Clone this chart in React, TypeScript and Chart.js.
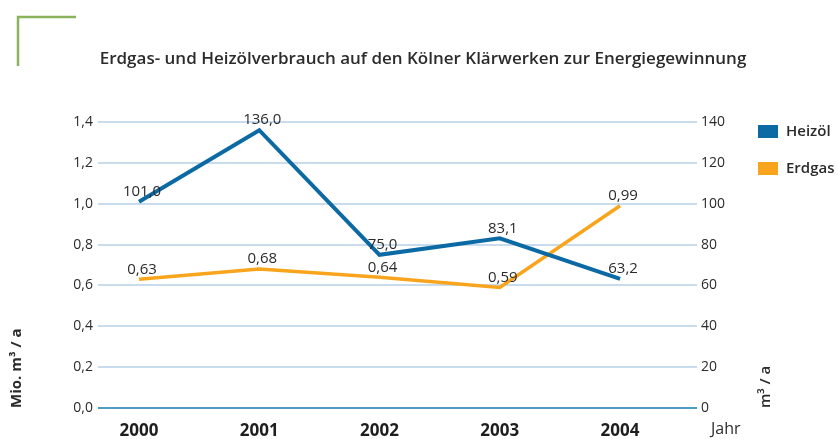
import React, { useEffect, useRef } from "react";
import { Chart, registerables } from "chart.js";

Chart.register(...registerables);

const years = ["2000", "2001", "2002", "2003", "2004"];
const heizoel = [101.0, 136.0, 75.0, 83.1, 63.2]; // m³/a (right axis)
const erdgas = [0.63, 0.68, 0.64, 0.59, 0.99]; // Mio. m³/a (left axis)
const leftTicks = [0, 0.2, 0.4, 0.6, 0.8, 1.0, 1.2, 1.4];
const rightTicks = [0, 20, 40, 60, 80, 100, 120, 140];

const BLUE = "#0b69a3";
const ORANGE = "#f8a51d";
const TEXT = "#2b2b2b";
const FONT = "'Open Sans', 'Noto Sans', sans-serif";

const comma = (v: number, d: number) => v.toFixed(d).replace(".", ",");

const decorPlugin = {
  id: "decor",
  afterDatasetsDraw(chart: any) {
    const ctx = chart.ctx;
    ctx.save();
    ctx.font = `15px ${FONT}`;
    ctx.fillStyle = TEXT;
    ctx.textAlign = "center";
    ctx.textBaseline = "middle";
    chart.data.datasets.forEach((ds: any, di: number) => {
      const meta = chart.getDatasetMeta(di);
      meta.data.forEach((pt: any, i: number) => {
        const v = ds.data[i].y;
        const txt = di === 0 ? comma(v, 1) : comma(v, 2);
        ctx.fillText(txt, pt.x + 3, pt.y - 10);
      });
    });
    ctx.restore();
  },
  afterDraw(chart: any) {
    const ctx = chart.ctx;
    ctx.save();
    ctx.strokeStyle = "#8bb35c";
    ctx.lineWidth = 2.5;
    ctx.beginPath();
    ctx.moveTo(18, 66);
    ctx.lineTo(18, 17);
    ctx.lineTo(76, 17);
    ctx.stroke();
    ctx.fillStyle = TEXT;
    ctx.font = `600 17px ${FONT}`;
    ctx.textAlign = "center";
    ctx.textBaseline = "middle";
    ctx.fillText(
      "Erdgas- und Heizölverbrauch auf den Kölner Klärwerken zur Energiegewinnung",
      423,
      59
    );
    const items = [
      { label: "Heizöl", color: BLUE, y: 131 },
      { label: "Erdgas", color: ORANGE, y: 168 },
    ];
    ctx.font = `600 15px ${FONT}`;
    ctx.textAlign = "left";
    items.forEach((it) => {
      ctx.fillStyle = it.color;
      ctx.fillRect(758, it.y - 6, 20, 13);
      ctx.fillStyle = TEXT;
      ctx.fillText(it.label, 786, it.y + 1);
    });
    ctx.font = `16px ${FONT}`;
    ctx.fillText("Jahr", 711, 429);
    ctx.font = `bold 15px ${FONT}`;
    ctx.save();
    ctx.translate(17, 408);
    ctx.rotate(-Math.PI / 2);
    ctx.textAlign = "left";
    ctx.fillText("Mio. m³ / a", 0, 0);
    ctx.restore();
    ctx.save();
    ctx.translate(766, 408);
    ctx.rotate(-Math.PI / 2);
    ctx.textAlign = "left";
    ctx.font = `600 15px ${FONT}`;
    ctx.fillText("m³ / a", 0, 0);
    ctx.restore();
    ctx.restore();
  },
};

export default function App() {
  const ref = useRef<HTMLCanvasElement>(null);
  useEffect(() => {
    if (!ref.current) return;
    const chart = new Chart(ref.current, {
      type: "line",
      data: {
        datasets: [
          {
            label: "Heizöl",
            data: heizoel.map((v, i) => ({ x: i, y: v })),
            borderColor: BLUE,
            borderWidth: 4,
            pointRadius: 0,
            tension: 0,
            yAxisID: "y2",
          },
          {
            label: "Erdgas",
            data: erdgas.map((v, i) => ({ x: i, y: v })),
            borderColor: ORANGE,
            borderWidth: 3.5,
            pointRadius: 0,
            tension: 0,
            yAxisID: "y",
          },
        ],
      },
      options: {
        responsive: false,
        animation: false,
        layout: { padding: { top: 122, left: 0, right: 0, bottom: 0 } },
        plugins: {
          legend: { display: false },
          tooltip: { enabled: false },
          title: { display: false },
        },
        scales: {
          x: {
            type: "linear",
            min: -0.341,
            max: 4.64,
            afterBuildTicks: (s: any) => {
              s.ticks = years.map((_, i) => ({ value: i }));
            },
            afterFit: (s: any) => {
              s.height = 31;
            },
            grid: { display: false, drawTicks: false },
            border: { display: false },
            ticks: {
              callback: (v: any) => years[v] ?? "",
              font: { family: FONT, size: 17, weight: "bold" },
              color: "#1e1e1e",
              padding: 13,
              maxRotation: 0,
              autoSkip: false,
            },
          },
          y: {
            position: "left",
            min: 0,
            max: 1.4,
            afterBuildTicks: (s: any) => {
              s.ticks = leftTicks.map((v) => ({ value: v }));
            },
            afterFit: (s: any) => {
              s.width = 98;
            },
            grid: {
              drawTicks: false,
              color: (c: any) => (c.tick && c.tick.value === 0 ? "#4b9dc8" : "#c9dcee"),
              lineWidth: 2,
            },
            border: { display: false },
            ticks: {
              callback: (v: any) => comma(Number(v), 1),
              font: { family: FONT, size: 14 },
              color: TEXT,
              padding: 5,
            },
          },
          y2: {
            position: "right",
            min: 0,
            max: 140,
            afterBuildTicks: (s: any) => {
              s.ticks = rightTicks.map((v) => ({ value: v }));
            },
            afterFit: (s: any) => {
              s.width = 141;
            },
            grid: { display: false, drawTicks: false },
            border: { display: false },
            ticks: {
              callback: (v: any) => String(v),
              font: { family: FONT, size: 14 },
              color: TEXT,
              padding: 4,
            },
          },
        },
      },
      plugins: [decorPlugin],
    } as any);
    return () => chart.destroy();
  }, []);
  return (
    <div style={{ position: "absolute", left: 0, top: 0, width: 838, height: 439, background: "#fff" }}>
      <canvas ref={ref} width={838} height={439} style={{ display: "block" }} />
    </div>
  );
}
